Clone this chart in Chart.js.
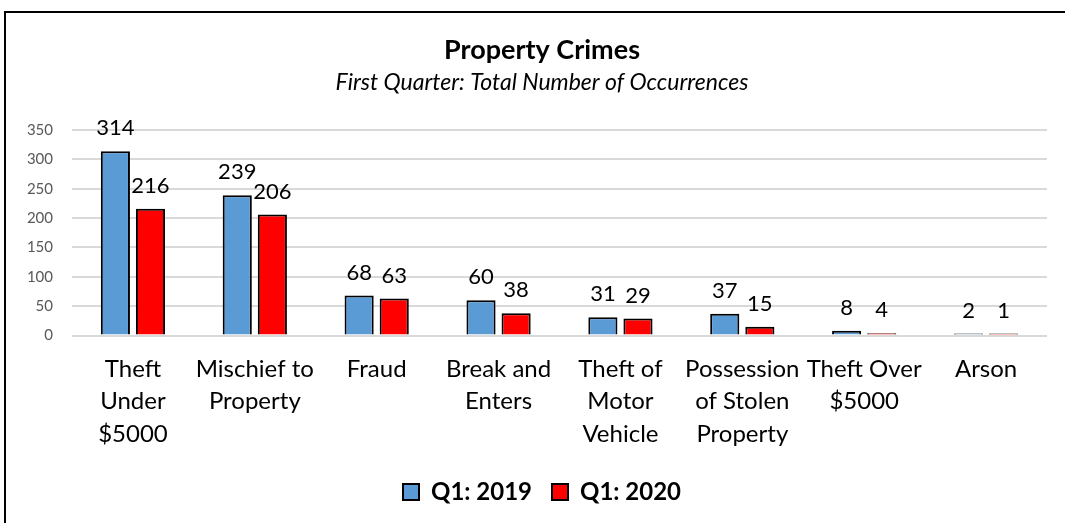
<!DOCTYPE html>
<html>
<head>
<meta charset="utf-8">
<script src="https://cdn.jsdelivr.net/npm/chart.js@4"></script>
<style>
  html, body { margin: 0; padding: 0; background: #fff; overflow: hidden; }
  #frame { position: absolute; left: 4px; top: 11px; width: 1200px; height: 700px; border: 2px solid #000; }
  #wrap { position: absolute; left: 0; top: 0; width: 1065px; height: 523px; }
</style>
</head>
<body>
<div id="frame"></div>
<div id="wrap"><canvas id="chart" width="1065" height="523"></canvas></div>
<script>
// Data
const categories = [
    ['Theft', 'Under', '$5000'],
    ['Mischief to', 'Property'],
    'Fraud',
    ['Break and', 'Enters'],
    ['Theft of', 'Motor', 'Vehicle'],
    ['Possession', 'of Stolen', 'Property'],
    ['Theft Over', '$5000'],
    'Arson'
];
const q1_2019 = [314, 239, 68, 60, 31, 37, 8, 2];
const q1_2020 = [216, 206, 63, 38, 29, 15, 4, 1];
const yTicks = [0, 50, 100, 150, 200, 250, 300, 350];

const FONT = 'Lato, "Open Sans", sans-serif';

// Value labels above each bar + y tick labels (drawn here so they are not clipped to the narrow axis box)
const barLabels = {
    id: 'barLabels',
    afterDatasetsDraw(chart) {
        const ctx = chart.ctx;
        ctx.save();
        ctx.font = '22px ' + FONT;
        ctx.fillStyle = '#000';
        ctx.textAlign = 'center';
        ctx.textBaseline = 'bottom';
        chart.data.datasets.forEach((ds, i) => {
            chart.getDatasetMeta(i).data.forEach((bar, j) => {
                ctx.fillText(ds.data[j], bar.x, bar.y - 12);
            });
        });

        const y = chart.scales.y;
        ctx.font = '15px ' + FONT;
        ctx.fillStyle = '#595959';
        ctx.textAlign = 'right';
        ctx.textBaseline = 'middle';
        yTicks.forEach(v => ctx.fillText(v, chart.chartArea.left - 19, y.getPixelForValue(v)));
        ctx.restore();
    }
};

new Chart(document.getElementById('chart'), {
    type: 'bar',
    data: {
        labels: categories,
        datasets: [
            { label: 'Q1: 2019', data: q1_2019, backgroundColor: '#5B9BD5', borderColor: '#000', borderWidth: 2, minBarLength: 2 },
            { label: 'Q1: 2020', data: q1_2020, backgroundColor: '#FF0000', borderColor: '#000', borderWidth: 2, minBarLength: 2 }
        ]
    },
    options: {
        responsive: false,
        animation: false,
        devicePixelRatio: 1,
        layout: { padding: { top: 34, left: 37, right: 18, bottom: 9 } },
        categoryPercentage: 0.576,
        barPercentage: 0.83,
        plugins: {
            title: {
                display: true,
                text: 'Property Crimes',
                color: '#000',
                font: { family: FONT, size: 27, weight: 'bold' },
                padding: { top: 0, bottom: 2 }
            },
            subtitle: {
                display: true,
                text: 'First Quarter: Total Number of Occurrences',
                color: '#000',
                font: { family: FONT, size: 23, style: 'italic' },
                padding: { bottom: 34 }
            },
            legend: {
                position: 'bottom',
                labels: {
                    color: '#000',
                    font: { family: FONT, size: 24, weight: 'bold' },
                    boxWidth: 16,
                    boxHeight: 16,
                    padding: 20
                }
            },
            tooltip: { enabled: false }
        },
        scales: {
            x: {
                grid: { display: false },
                border: { display: false },
                ticks: {
                    color: '#000',
                    font: { family: FONT, size: 24, lineHeight: 1.34 },
                    maxRotation: 0,
                    autoSkip: false,
                    padding: 10
                }
            },
            y: {
                min: 0,
                max: 350,
                afterBuildTicks: axis => { axis.ticks = yTicks.map(v => ({ value: v })); },
                afterFit: axis => { axis.width = 35; },
                grid: { color: '#D9D9D9', lineWidth: 2, drawTicks: false },
                border: { display: false },
                ticks: { display: false }
            }
        }
    },
    plugins: [barLabels]
});
</script>
</body>
</html>
